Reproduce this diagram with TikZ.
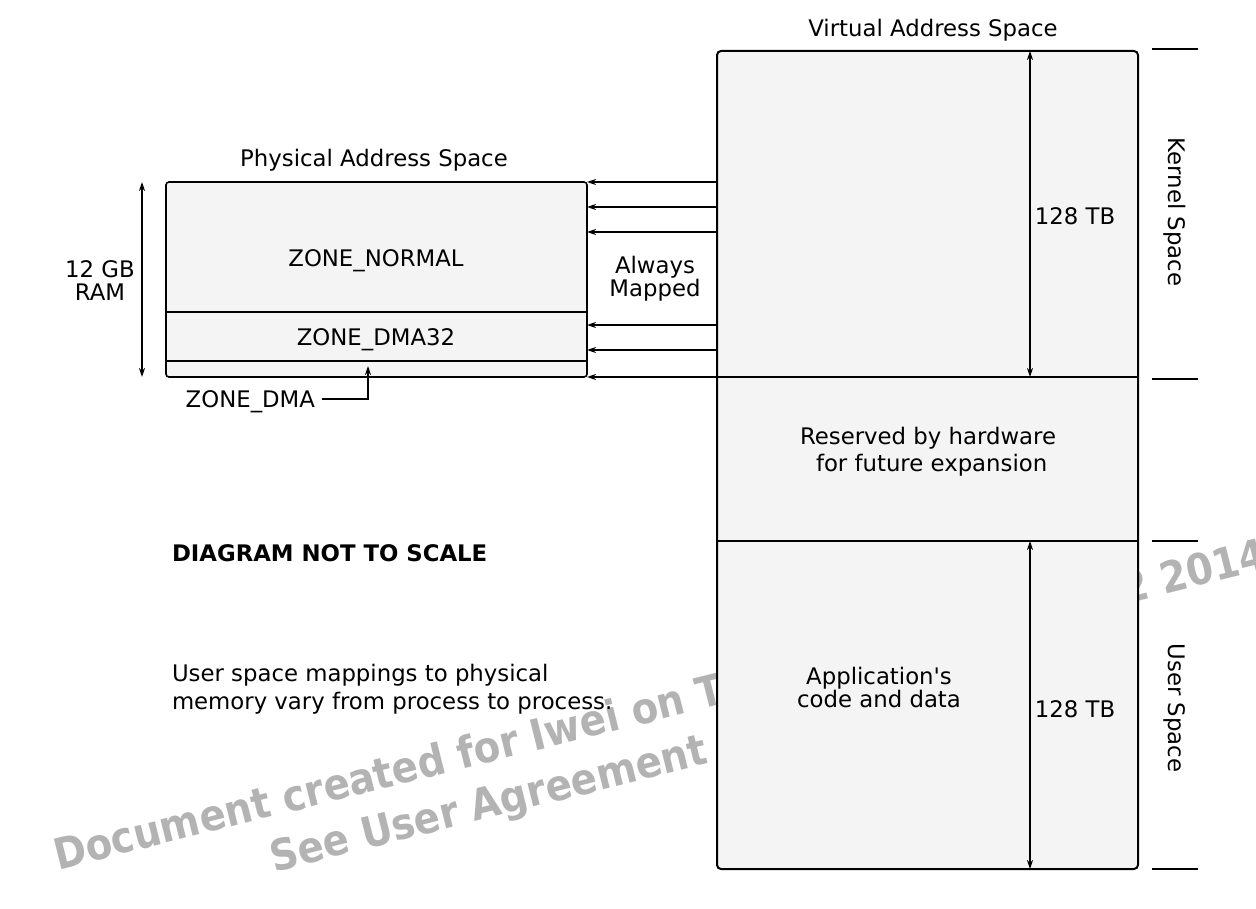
\documentclass[tikz,border=0pt]{standalone}
\usepackage{fontspec}
\usepackage{graphicx}
\setmainfont{DejaVu Sans}[Ligatures=TeXOff]
\usetikzlibrary{arrows.meta,calc}
\definecolor{boxfill}{HTML}{F4F4F4}
\definecolor{wmgray}{HTML}{B3B3B3}
\newcommand{\wmscale}[1]{\scalebox{0.9}[1]{#1}}
\begin{document}
\begin{tikzpicture}[x=1pt,y=-1pt,
  every node/.style={font=\fontsize{22.8}{27}\selectfont, inner sep=0pt, outer sep=0pt},
  vregion/.style={draw, line width=2pt, fill=boxfill, rounded corners=4pt},
  pregion/.style={draw, line width=1.6pt, fill=boxfill, rounded corners=3pt},
  divider/.style={line width=1.5pt},
  maparrow/.style={-{Stealth[length=9pt,width=6pt]}, line width=1.4pt},
  dimarrow/.style={{Stealth[length=9pt,width=6pt]}-{Stealth[length=9pt,width=6pt]}, line width=1.4pt},
  tickline/.style={line width=1.5pt},
  wmtext/.style={text=wmgray, font=\fontsize{43}{50}\selectfont\bfseries, rotate=14, anchor=base west}
]
\useasboundingbox (0,0) rectangle (1256,909);

% watermark (behind everything)
\node[wmtext] (wm1) at (58,870) {\wmscale{Document created for Iwei on T}};
\node[wmtext] (wm2) at (1125,604) {\wmscale{2 2014}};
\node[wmtext] (wm3) at (274,872) {\wmscale{See User Agreement}};

% boxes
\node[vregion, anchor=north west, minimum width=421pt, minimum height=818pt] (vas) at (717,51) {};
\node[pregion, anchor=north west, minimum width=421pt, minimum height=195pt] (pas) at (166,182) {};

% level coordinates
\coordinate (kb) at (0,377);
\coordinate (ub) at (0,541);
\coordinate (n32) at (0,312);
\coordinate (d32) at (0,361);
\coordinate (dimx) at (1030,0);
\coordinate (ramx) at (142,0);

% dividers
\draw[divider] (vas.west |- kb) -- (vas.east |- kb);
\draw[divider] (vas.west |- ub) -- (vas.east |- ub);
\draw[divider] (pas.west |- n32) -- (pas.east |- n32);
\draw[divider] (pas.west |- d32) -- (pas.east |- d32);

% mapping arrows
\foreach \yy in {182,207,232,325,350,377}{
  \coordinate (m) at (0,\yy);
  \draw[maparrow] (vas.west |- m) -- (pas.east |- m);
}

% dimension arrows
\draw[dimarrow] (vas.north -| dimx) -- (kb -| dimx);
\draw[dimarrow] (ub -| dimx) -- (vas.south -| dimx);
\draw[dimarrow] (pas.north -| ramx) -- (pas.south -| ramx);

% ticks on the right
\foreach \yy in {49,379,541,869}{
  \draw[tickline] (1152,\yy) -- (1198,\yy);
}

% labels
\node (vtitle) at (933,30) {Virtual Address Space};
\node (ptitle) at (374,160) {Physical Address Space};
\node (znorm) at (376,261) {ZONE\_NORMAL};
\node (zdma32) at (376,340) {ZONE\_DMA32};
\node[align=center, font=\fontsize{22.8}{23}\selectfont] (ram) at (100,281) {12 GB\\RAM};
\node[align=center, font=\fontsize{22.8}{21}\selectfont] (always) at (655,279) {Always\\Mapped};
\node[align=center, font=\fontsize{22.8}{27}\selectfont] (resv) at (928,452) {Reserved by hardware\\ \ for future expansion};
\node[align=center, font=\fontsize{22.8}{23}\selectfont] (app) at (879,687) {Application's\\code and data};
\node (ktb) at (1075,216) {128 TB};
\node (utb) at (1075,709) {128 TB};
\node[rotate=-90] (kspace) at (1175,212) {Kernel Space};
\node[rotate=-90] (uspace) at (1175,708) {User Space};
\node[anchor=west, font=\fontsize{22.8}{27}\selectfont\bfseries] (nts) at (172,553) {DIAGRAM NOT TO SCALE};
\node[anchor=west, align=left, font=\fontsize{22.8}{28}\selectfont] (note) at (172,689) {User space mappings to physical\\memory vary from process to process.};

% ZONE_DMA pointer
\node[anchor=east] (zdma) at (315,402) {ZONE\_DMA};
\coordinate (dmatip) at (368,366);
\draw[maparrow] ([xshift=7pt,yshift=3pt]zdma.east) -| (dmatip);
\end{tikzpicture}
\end{document}
